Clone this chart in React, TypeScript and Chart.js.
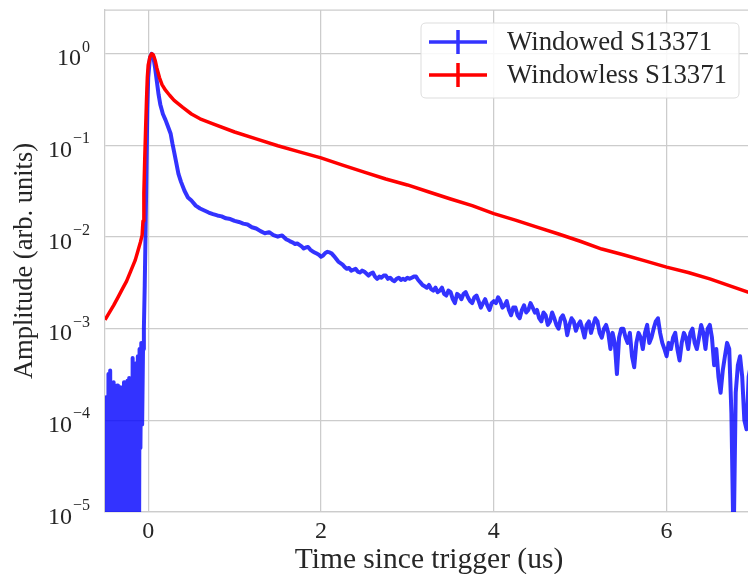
import React, { useEffect, useRef } from "react";
import { Chart, registerables } from "chart.js";

Chart.register(...registerables);

// ---------------- data ----------------
const redTimes = [
  -0.5, -0.45, -0.4, -0.35, -0.3, -0.25, -0.2, -0.15, -0.12, -0.09, -0.07, -0.06, -0.05, -0.04, -0.03,
  -0.02, -0.01, 0.0, 0.02, 0.04, 0.06, 0.08, 0.1, 0.13, 0.16, 0.2, 0.25, 0.3, 0.4, 0.5, 0.6, 0.75,
  1.0, 1.25, 1.5, 1.75, 2.0, 2.25, 2.5, 2.75, 3.0, 3.25, 3.5, 3.75, 4.0, 4.25, 4.5, 4.75, 5.0, 5.25,
  5.5, 5.75, 6.0, 6.25, 6.5, 6.75, 7.0,
];
const redAmps = [
  1.25e-3, 1.5e-3, 1.8e-3, 2.2e-3, 2.7e-3, 3.3e-3, 4.3e-3, 5.6e-3, 7.0e-3, 8.8e-3, 1.05e-2, 1.5e-2,
  3.0e-2, 7.0e-2, 0.15, 0.3, 0.55, 0.75, 0.92, 1.0, 0.97, 0.85, 0.7, 0.55, 0.46, 0.4, 0.35, 0.31,
  0.26, 0.22, 0.195, 0.172, 0.14, 0.118, 0.099, 0.085, 0.073, 0.061, 0.051, 0.043, 0.037, 0.031,
  0.026, 0.022, 0.018, 0.0153, 0.0128, 0.0108, 0.009, 0.0074, 0.0064, 0.0055, 0.0047, 0.0041,
  0.0035, 0.0029, 0.0024,
];

// Windowed: pre-trigger noise, pulse, early tail
const blueTimesEarly = [
  -0.5, -0.49, -0.48, -0.47, -0.46, -0.45, -0.44, -0.43, -0.42, -0.41, -0.4, -0.39, -0.38, -0.37,
  -0.36, -0.35, -0.34, -0.33, -0.32, -0.31, -0.3, -0.29, -0.28, -0.27, -0.26, -0.25, -0.24, -0.23,
  -0.22, -0.21, -0.2, -0.19, -0.18, -0.17, -0.16, -0.15, -0.14, -0.13, -0.12, -0.11, -0.1, -0.09,
  -0.08, -0.07, -0.06, -0.05, -0.04, -0.03, -0.02, -0.01, 0.0, 0.02, 0.04, 0.06, 0.08, 0.1, 0.12,
  0.14, 0.17, 0.2, 0.23, 0.26, 0.28, 0.3, 0.32, 0.35, 0.38, 0.42, 0.46,
  0.5, 0.55, 0.6, 0.65, 0.7, 0.75, 0.8, 0.85, 0.9, 0.95, 1.0, 1.05, 1.1, 1.15, 1.2, 1.25, 1.3, 1.35,
  1.4, 1.45,
];
const blueAmpsEarly = [
  1.2e-4, 1e-7, 1.8e-4, 1e-7, 3.2e-4, 1e-7, 3.5e-4, 1e-7, 2.2e-4, 1e-7, 2.6e-4, 1e-7, 2.0e-4, 3e-5,
  2.4e-4, 1e-7, 2.2e-4, 1e-7, 2.3e-4, 1e-7, 2.1e-4, 1e-7, 2.6e-4, 1e-7, 2.3e-4, 1e-7, 2.7e-4, 1e-7,
  2.9e-4, 1e-7, 2.4e-4, 1e-7, 4.8e-4, 8e-5, 3.5e-4, 1e-7, 4.2e-4, 1e-7, 5e-4, 1e-7, 6e-4, 5e-5,
  7e-4, 9e-5, 6e-4, 1e-3, 3e-3, 1.2e-2, 0.06, 0.25, 0.55, 0.9, 1.0, 0.92, 0.7, 0.5, 0.36,
  0.28, 0.22, 0.19, 0.16, 0.134, 0.105, 0.085, 0.068, 0.049, 0.04, 0.032, 0.027,
  0.025, 0.022, 0.0205, 0.0195, 0.0185, 0.0178, 0.0172, 0.0168, 0.016, 0.0157, 0.015, 0.0146, 0.014,
  0.0137, 0.0128, 0.0124, 0.0116, 0.011, 0.0113, 0.0105,
];

// Windowed: noisy tail, sampled every 0.025 us from 1.5 to 7.0
const blueTailStart = 1.5;
const blueTailStep = 0.025;
const blueAmpsTail = [
  0.0101, 0.0103, 0.0104, 0.0099, 0.0094, 0.0092, 0.0089, 0.0087, 0.0084, 0.0085,
  0.0082, 0.0079, 0.0075, 0.0077, 0.0078, 0.0073, 0.007, 0.0068, 0.0066, 0.0064,
  0.0061, 0.0063, 0.0067, 0.0069, 0.0068, 0.0066, 0.0062, 0.0058, 0.0054, 0.0052,
  0.005, 0.0047, 0.0045, 0.0046, 0.0043, 0.0044, 0.0045, 0.0042, 0.0041, 0.0043,
  0.0042, 0.004, 0.0038, 0.004, 0.0041, 0.0037, 0.0035, 0.0037, 0.0036, 0.0038,
  0.0038, 0.0035, 0.0036, 0.0034, 0.0033, 0.0035, 0.0036, 0.0034, 0.0035, 0.0034,
  0.0036, 0.0035, 0.0036, 0.0037, 0.0037, 0.0034, 0.0032, 0.003, 0.0029, 0.0028,
  0.003, 0.0027, 0.0026, 0.0028, 0.0025, 0.0026, 0.0028, 0.0024, 0.0023, 0.0026,
  0.0025, 0.0021, 0.0019, 0.0024, 0.0023, 0.0021, 0.0024, 0.0025, 0.0022, 0.002,
  0.0019, 0.0022, 0.0023, 0.002, 0.0017, 0.0019, 0.0021, 0.0018, 0.0016, 0.0019,
  0.002, 0.0019, 0.0022, 0.002, 0.0017, 0.0018, 0.002, 0.0016, 0.0014, 0.0017,
  0.0017, 0.0014, 0.0013, 0.0016, 0.0018, 0.0015, 0.0016, 0.0019, 0.0017, 0.0015,
  0.0016, 0.0013, 0.0012, 0.0015, 0.0014, 0.0011, 0.0012, 0.0015, 0.0013, 0.0011,
  0.001, 0.0013, 0.0014, 0.0012, 0.00085, 0.0011, 0.0013, 0.0012, 0.00095, 0.0011,
  0.0012, 0.001, 0.0008, 0.0011, 0.0012, 0.0009, 0.0011, 0.0013, 0.0012, 0.0009,
  0.0008, 0.001, 0.0011, 0.0009, 0.0006, 0.0009, 0.0007, 0.00032, 0.0008, 0.001,
  0.001, 0.0008, 0.0007, 0.0009, 0.0005, 0.00038, 0.0007, 0.0009, 0.0008, 0.0006,
  0.0009, 0.0011, 0.0007, 0.0008, 0.001, 0.0012, 0.0013, 0.0009, 0.0007, 0.0006,
  0.0005, 0.0007, 0.0006, 0.0008, 0.0009, 0.0006, 0.00045, 0.0007, 0.0009, 0.0008,
  0.0006, 0.0009, 0.001, 0.0007, 0.0006, 0.0008, 0.0011, 0.0009, 0.0006, 0.001,
  0.0011, 0.0008, 0.0004, 0.0006, 0.0003, 0.0002, 0.00035, 0.0005, 0.0007, 0.0006,
  0.00012, 0.000004, 0.0002, 0.0004, 0.0005, 0.0003, 0.0001, 0.00008, 0.0003, 0.0004,
  0.00035,
];

const xTicks = [0, 2, 4, 6];
const yTicks = [1e-5, 1e-4, 1e-3, 1e-2, 1e-1, 1e0];
const yTickExps = ["\u22125", "\u22124", "\u22123", "\u22122", "\u22121", "0"];
const seriesNames = ["Windowed S13371", "Windowless S13371"];
const xTitle = "Time since trigger (us)";
const yTitle = "Amplitude (arb. units)";

// ---------------- style ----------------
const BLUE = "rgba(0,0,255,0.8)";
const RED = "rgba(255,0,0,1)";
const GRID = "#cccccc";
const TEXT = "#262626";
const FONT = "'Liberation Serif', 'Times New Roman', serif";

const decor = {
  id: "decor",
  beforeDatasetsDraw(chart: any) {
    const { ctx, chartArea } = chart;
    ctx.save();
    ctx.strokeStyle = GRID;
    ctx.lineWidth = 1.25;
    ctx.beginPath();
    ctx.moveTo(chartArea.left, chartArea.top);
    ctx.lineTo(chartArea.right, chartArea.top);
    ctx.stroke();
    ctx.restore();
  },
  afterDraw(chart: any) {
    const { ctx, chartArea } = chart;
    const { left, top, right, bottom } = chartArea;
    const xs = chart.scales.x;
    const ys = chart.scales.y;
    ctx.save();
    ctx.fillStyle = TEXT;
    ctx.textBaseline = "alphabetic";
    // y tick labels with superscripts
    yTicks.forEach((v, i) => {
      const py = ys.getPixelForValue(v);
      const exp = yTickExps[i];
      ctx.font = `16px ${FONT}`;
      const ew = ctx.measureText(exp).width;
      ctx.textAlign = "right";
      ctx.fillText(exp, 90, py - 2);
      ctx.font = `24px ${FONT}`;
      ctx.fillText("10", 90 - ew - 1, py + 11.5);
    });
    // x tick labels
    ctx.font = `24px ${FONT}`;
    ctx.textAlign = "center";
    xTicks.forEach((v) => {
      ctx.fillText(String(v), xs.getPixelForValue(v), 538);
    });
    // x title
    ctx.font = `29.5px ${FONT}`;
    ctx.fillText(xTitle, (left + right) / 2, 568);
    // y title
    ctx.save();
    ctx.font = `26.5px ${FONT}`;
    ctx.translate(32, (top + bottom) / 2);
    ctx.rotate(-Math.PI / 2);
    ctx.textAlign = "center";
    ctx.fillText(yTitle, 0, 0);
    ctx.restore();

    // legend
    const bx = 421, by = 23, bw = 318, bh = 75, r = 5;
    ctx.beginPath();
    ctx.moveTo(bx + r, by);
    ctx.lineTo(bx + bw - r, by);
    ctx.quadraticCurveTo(bx + bw, by, bx + bw, by + r);
    ctx.lineTo(bx + bw, by + bh - r);
    ctx.quadraticCurveTo(bx + bw, by + bh, bx + bw - r, by + bh);
    ctx.lineTo(bx + r, by + bh);
    ctx.quadraticCurveTo(bx, by + bh, bx, by + bh - r);
    ctx.lineTo(bx, by + r);
    ctx.quadraticCurveTo(bx, by, bx + r, by);
    ctx.closePath();
    ctx.fillStyle = "rgba(255,255,255,0.85)";
    ctx.fill();
    ctx.strokeStyle = "#dddddd";
    ctx.lineWidth = 1;
    ctx.stroke();

    const entries = [
      { color: BLUE, y: 42 },
      { color: RED, y: 75 },
    ];
    entries.forEach((e, i) => {
      ctx.strokeStyle = e.color;
      ctx.lineWidth = 3.5;
      ctx.lineCap = "butt";
      ctx.beginPath();
      ctx.moveTo(429, e.y);
      ctx.lineTo(487, e.y);
      ctx.moveTo(458, e.y - 12);
      ctx.lineTo(458, e.y + 12);
      ctx.stroke();
      ctx.fillStyle = TEXT;
      ctx.font = `26.8px ${FONT}`;
      ctx.textAlign = "left";
      ctx.fillText(seriesNames[i], 507, e.y + 8);
    });
    ctx.restore();
  },
};

export default function App() {
  const ref = useRef<HTMLCanvasElement | null>(null);
  useEffect(() => {
    if (!ref.current) return;
    const bluePoints = blueTimesEarly.map((t, i) => ({ x: t, y: blueAmpsEarly[i] }));
    blueAmpsTail.forEach((a, i) => {
      bluePoints.push({ x: +(blueTailStart + i * blueTailStep).toFixed(3), y: a });
    });
    const chart = new Chart(ref.current, {
      type: "line",
      data: {
        datasets: [
          {
            label: seriesNames[0],
            data: bluePoints,
            borderColor: BLUE,
            borderWidth: 4,
            pointRadius: 0,
            tension: 0,
            order: 1,
            clip: 0,
            borderJoinStyle: "round",
          },
          {
            label: seriesNames[1],
            data: redTimes.map((t, i) => ({ x: t, y: redAmps[i] })),
            borderColor: RED,
            borderWidth: 3.5,
            pointRadius: 0,
            tension: 0,
            order: 0,
            clip: 0,
            borderJoinStyle: "round",
          },
        ],
      },
      options: {
        responsive: false,
        animation: false,
        devicePixelRatio: 1,
        layout: { padding: { top: 10, right: 0, left: 0, bottom: 0 } },
        plugins: { legend: { display: false }, tooltip: { enabled: false } },
        scales: {
          x: {
            type: "linear",
            min: -0.5,
            max: 7.0,
            afterBuildTicks: (s: any) => {
              s.ticks = xTicks.map((v) => ({ value: v }));
            },
            afterFit: (s: any) => {
              s.height = 62;
            },
            ticks: { display: false },
            grid: { color: GRID, lineWidth: 1.25, drawTicks: false },
            border: { display: true, color: GRID, width: 1.25 },
          },
          y: {
            type: "logarithmic",
            min: 1e-5,
            max: 3.0,
            afterBuildTicks: (s: any) => {
              s.ticks = yTicks.map((v) => ({ value: v }));
            },
            afterFit: (s: any) => {
              s.width = 105;
            },
            ticks: { display: false },
            grid: { color: GRID, lineWidth: 1.25, drawTicks: false },
            border: { display: true, color: GRID, width: 1.25 },
          },
        },
      },
      plugins: [decor],
    } as any);
    return () => chart.destroy();
  }, []);
  return (
    <div
      style={{
        position: "fixed",
        left: 0,
        top: 0,
        width: 748,
        height: 574,
        overflow: "hidden",
        background: "#ffffff",
      }}
    >
      <canvas ref={ref} width={753} height={574} style={{ display: "block" }} />
    </div>
  );
}
